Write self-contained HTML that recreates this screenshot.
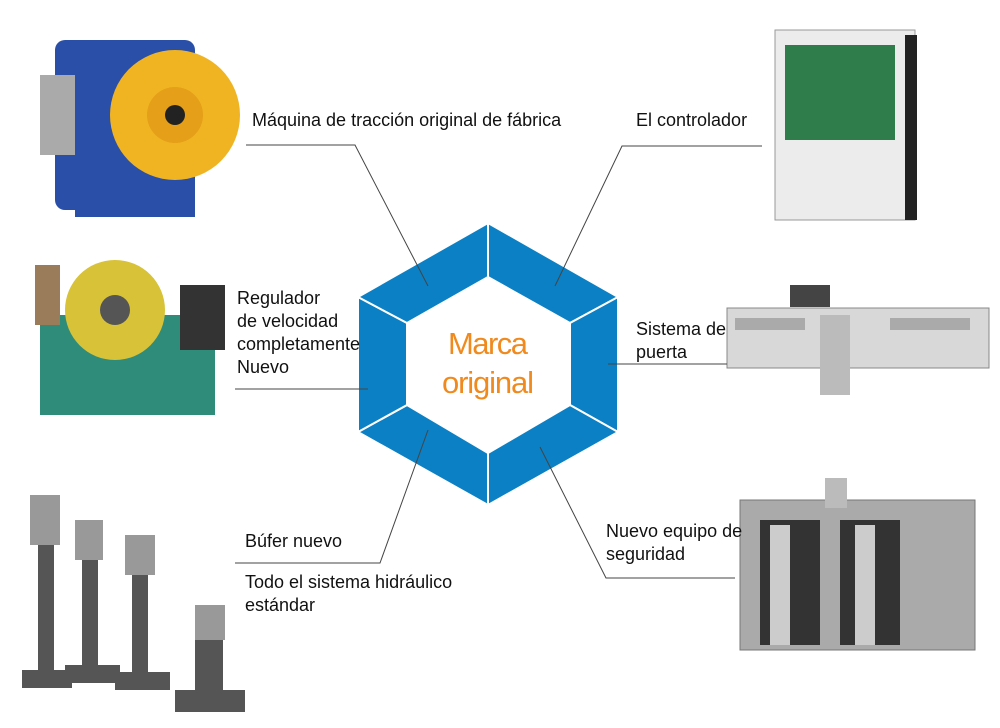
<!DOCTYPE html>
<html><head><meta charset="utf-8"><style>
body{margin:0;width:1000px;height:728px;background:#fff;overflow:hidden;position:relative;font-family:"Liberation Sans",sans-serif;}
.t{position:absolute;font-size:18px;color:#111;line-height:23px;}
svg{position:absolute;left:0;top:0;}
</style></head><body>
<svg width="1000" height="728" viewBox="0 0 1000 728">
<rect x="55" y="40" width="140" height="170" rx="10" fill="#2a4fa8"/>
<circle cx="175" cy="115" r="65" fill="#f0b423"/>
<circle cx="175" cy="115" r="28" fill="#e59f18"/>
<circle cx="175" cy="115" r="10" fill="#222"/>
<rect x="40" y="75" width="35" height="80" fill="#aaa"/>
<rect x="75" y="195" width="120" height="22" fill="#2a4fa8"/>
<rect x="775" y="30" width="140" height="190" fill="#ececec" stroke="#999"/>
<rect x="785" y="45" width="110" height="95" fill="#2e7d4a"/>
<rect x="905" y="35" width="12" height="185" fill="#222"/>
<rect x="40" y="315" width="175" height="100" fill="#2f8c7a"/>
<circle cx="115" cy="310" r="50" fill="#d7c238"/>
<circle cx="115" cy="310" r="15" fill="#555"/>
<rect x="180" y="285" width="45" height="65" fill="#333"/>
<rect x="35" y="265" width="25" height="60" fill="#9a7b5a"/>
<rect x="727" y="308" width="262" height="60" fill="#d8d8d8" stroke="#888"/>
<rect x="790" y="285" width="40" height="22" fill="#444"/>
<rect x="820" y="315" width="30" height="80" fill="#bbb"/>
<rect x="735" y="318" width="70" height="12" fill="#aaa"/>
<rect x="890" y="318" width="80" height="12" fill="#aaa"/>
<g fill="#555">
<rect x="22" y="670" width="50" height="18"/><rect x="38" y="540" width="16" height="130"/>
<rect x="65" y="665" width="55" height="18"/><rect x="82" y="545" width="16" height="120"/>
<rect x="115" y="672" width="55" height="18"/><rect x="132" y="570" width="16" height="102"/>
<rect x="175" y="690" width="70" height="22"/><rect x="195" y="640" width="28" height="50"/>
</g>
<g fill="#999">
<rect x="30" y="495" width="30" height="50"/><rect x="75" y="520" width="28" height="40"/>
<rect x="125" y="535" width="30" height="40"/><rect x="195" y="605" width="30" height="35"/>
</g>
<rect x="740" y="500" width="235" height="150" fill="#aaa" stroke="#777"/>
<rect x="760" y="520" width="60" height="125" fill="#333"/>
<rect x="840" y="520" width="60" height="125" fill="#333"/>
<rect x="825" y="478" width="22" height="30" fill="#bbb"/>
<rect x="770" y="525" width="20" height="120" fill="#ccc"/>
<rect x="855" y="525" width="20" height="120" fill="#ccc"/>

<g fill="#0b80c4" stroke="#fff" stroke-width="2" stroke-linejoin="miter">
<polygon points="488,223 618,297 570,323 488,277"/>
<polygon points="618,297 618,432 570,405 570,323"/>
<polygon points="618,432 488,505 488,453 570,405"/>
<polygon points="488,505 358,432 407,405 488,453"/>
<polygon points="358,432 358,297 407,323 407,405"/>
<polygon points="358,297 488,223 488,277 407,323"/>
</g>
<g stroke="#444" stroke-width="1" fill="none">
<polyline points="246,145 355,145 428,286"/>
<polyline points="762,146 622,146 555,286"/>
<line x1="235" y1="389" x2="368" y2="389"/>
<line x1="608" y1="364" x2="727" y2="364"/>
<polyline points="235,563 380,563 428,430"/>
<polyline points="540,447 606,578 735,578"/>
</g>
<text x="488" y="354" text-anchor="middle" font-family="Liberation Sans, sans-serif" font-size="31" fill="#f08a1e" textLength="80">Marca</text>
<text x="488" y="393" text-anchor="middle" font-family="Liberation Sans, sans-serif" font-size="31" fill="#f08a1e" textLength="92">original</text>
</svg>
<div class="t" style="left:252px;top:109px">Máquina de tracción original de fábrica</div>
<div class="t" style="left:636px;top:109px">El controlador</div>
<div class="t" style="left:237px;top:287px">Regulador<br>de velocidad<br>completamente<br>Nuevo</div>
<div class="t" style="left:636px;top:318px">Sistema de<br>puerta</div>
<div class="t" style="left:245px;top:530px">Búfer nuevo</div>
<div class="t" style="left:245px;top:571px">Todo el sistema hidráulico<br>estándar</div>
<div class="t" style="left:606px;top:520px">Nuevo equipo de<br>seguridad</div>
</body></html>
